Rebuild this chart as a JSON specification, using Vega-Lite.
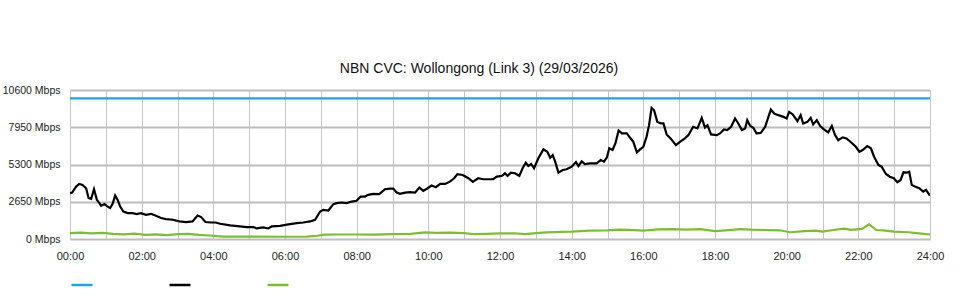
{
  "$schema": "https://vega.github.io/schema/vega-lite/v6.json",
  "autosize": {"type": "none"},
  "padding": {"left": 70, "top": 90, "right": 30, "bottom": 61},
  "width": 860,
  "height": 149,
  "background": "white",
  "title": {
    "text": "NBN CVC: Wollongong (Link 3) (29/03/2026)",
    "font": "Liberation Sans",
    "fontSize": 14,
    "fontWeight": "normal",
    "color": "#111",
    "anchor": "middle",
    "dx": -21,
    "offset": 9
  },
  "config": {
    "view": {"stroke": null},
    "axis": {
      "labelFont": "Liberation Sans",
      "labelColor": "#222",
      "domain": false,
      "ticks": false
    }
  },
  "data": {
    "values": [
      {"h": 0, "v": 10000, "s": "capacity"},
      {"h": 24, "v": 10000, "s": "capacity"},

      {"h": 0.00, "v": 3260, "s": "down"},
      {"h": 0.06, "v": 3300, "s": "down"},
      {"h": 0.17, "v": 3730, "s": "down"},
      {"h": 0.26, "v": 3920, "s": "down"},
      {"h": 0.35, "v": 3850, "s": "down"},
      {"h": 0.45, "v": 3610, "s": "down"},
      {"h": 0.52, "v": 2905, "s": "down"},
      {"h": 0.59, "v": 2855, "s": "down"},
      {"h": 0.67, "v": 3540, "s": "down"},
      {"h": 0.75, "v": 2785, "s": "down"},
      {"h": 0.82, "v": 2550, "s": "down"},
      {"h": 0.87, "v": 2360, "s": "down"},
      {"h": 0.96, "v": 2480, "s": "down"},
      {"h": 1.02, "v": 2360, "s": "down"},
      {"h": 1.12, "v": 2200, "s": "down"},
      {"h": 1.19, "v": 2500, "s": "down"},
      {"h": 1.26, "v": 3090, "s": "down"},
      {"h": 1.33, "v": 2785, "s": "down"},
      {"h": 1.40, "v": 2310, "s": "down"},
      {"h": 1.49, "v": 1955, "s": "down"},
      {"h": 1.61, "v": 1840, "s": "down"},
      {"h": 1.75, "v": 1840, "s": "down"},
      {"h": 1.86, "v": 1770, "s": "down"},
      {"h": 1.98, "v": 1840, "s": "down"},
      {"h": 2.12, "v": 1720, "s": "down"},
      {"h": 2.26, "v": 1790, "s": "down"},
      {"h": 2.40, "v": 1650, "s": "down"},
      {"h": 2.54, "v": 1490, "s": "down"},
      {"h": 2.68, "v": 1415, "s": "down"},
      {"h": 2.87, "v": 1370, "s": "down"},
      {"h": 3.05, "v": 1250, "s": "down"},
      {"h": 3.24, "v": 1205, "s": "down"},
      {"h": 3.42, "v": 1250, "s": "down"},
      {"h": 3.56, "v": 1670, "s": "down"},
      {"h": 3.66, "v": 1560, "s": "down"},
      {"h": 3.78, "v": 1205, "s": "down"},
      {"h": 3.93, "v": 1175, "s": "down"},
      {"h": 4.06, "v": 1175, "s": "down"},
      {"h": 4.19, "v": 1085, "s": "down"},
      {"h": 4.47, "v": 965, "s": "down"},
      {"h": 4.74, "v": 895, "s": "down"},
      {"h": 4.93, "v": 850, "s": "down"},
      {"h": 5.12, "v": 850, "s": "down"},
      {"h": 5.21, "v": 750, "s": "down"},
      {"h": 5.39, "v": 830, "s": "down"},
      {"h": 5.53, "v": 750, "s": "down"},
      {"h": 5.63, "v": 895, "s": "down"},
      {"h": 5.86, "v": 940, "s": "down"},
      {"h": 6.14, "v": 1060, "s": "down"},
      {"h": 6.33, "v": 1135, "s": "down"},
      {"h": 6.51, "v": 1175, "s": "down"},
      {"h": 6.70, "v": 1250, "s": "down"},
      {"h": 6.84, "v": 1370, "s": "down"},
      {"h": 6.98, "v": 1955, "s": "down"},
      {"h": 7.07, "v": 2075, "s": "down"},
      {"h": 7.21, "v": 2025, "s": "down"},
      {"h": 7.35, "v": 2480, "s": "down"},
      {"h": 7.44, "v": 2550, "s": "down"},
      {"h": 7.58, "v": 2595, "s": "down"},
      {"h": 7.72, "v": 2550, "s": "down"},
      {"h": 7.86, "v": 2665, "s": "down"},
      {"h": 8.00, "v": 2715, "s": "down"},
      {"h": 8.11, "v": 3020, "s": "down"},
      {"h": 8.23, "v": 3020, "s": "down"},
      {"h": 8.32, "v": 3140, "s": "down"},
      {"h": 8.46, "v": 3210, "s": "down"},
      {"h": 8.63, "v": 3190, "s": "down"},
      {"h": 8.79, "v": 3540, "s": "down"},
      {"h": 8.93, "v": 3585, "s": "down"},
      {"h": 9.02, "v": 3585, "s": "down"},
      {"h": 9.12, "v": 3300, "s": "down"},
      {"h": 9.21, "v": 3210, "s": "down"},
      {"h": 9.35, "v": 3300, "s": "down"},
      {"h": 9.49, "v": 3330, "s": "down"},
      {"h": 9.63, "v": 3300, "s": "down"},
      {"h": 9.75, "v": 3655, "s": "down"},
      {"h": 9.86, "v": 3420, "s": "down"},
      {"h": 9.98, "v": 3610, "s": "down"},
      {"h": 10.09, "v": 3800, "s": "down"},
      {"h": 10.21, "v": 3685, "s": "down"},
      {"h": 10.33, "v": 3920, "s": "down"},
      {"h": 10.47, "v": 3920, "s": "down"},
      {"h": 10.60, "v": 4080, "s": "down"},
      {"h": 10.72, "v": 4320, "s": "down"},
      {"h": 10.81, "v": 4605, "s": "down"},
      {"h": 10.96, "v": 4555, "s": "down"},
      {"h": 11.12, "v": 4320, "s": "down"},
      {"h": 11.24, "v": 4060, "s": "down"},
      {"h": 11.39, "v": 4320, "s": "down"},
      {"h": 11.53, "v": 4250, "s": "down"},
      {"h": 11.81, "v": 4250, "s": "down"},
      {"h": 11.91, "v": 4435, "s": "down"},
      {"h": 12.05, "v": 4485, "s": "down"},
      {"h": 12.14, "v": 4675, "s": "down"},
      {"h": 12.21, "v": 4485, "s": "down"},
      {"h": 12.30, "v": 4720, "s": "down"},
      {"h": 12.42, "v": 4675, "s": "down"},
      {"h": 12.54, "v": 4485, "s": "down"},
      {"h": 12.63, "v": 5030, "s": "down"},
      {"h": 12.72, "v": 5430, "s": "down"},
      {"h": 12.79, "v": 5195, "s": "down"},
      {"h": 12.87, "v": 5335, "s": "down"},
      {"h": 12.95, "v": 5030, "s": "down"},
      {"h": 13.07, "v": 5740, "s": "down"},
      {"h": 13.21, "v": 6375, "s": "down"},
      {"h": 13.32, "v": 6205, "s": "down"},
      {"h": 13.40, "v": 5780, "s": "down"},
      {"h": 13.47, "v": 5975, "s": "down"},
      {"h": 13.54, "v": 5500, "s": "down"},
      {"h": 13.63, "v": 4720, "s": "down"},
      {"h": 13.75, "v": 4910, "s": "down"},
      {"h": 13.86, "v": 4960, "s": "down"},
      {"h": 14.00, "v": 5145, "s": "down"},
      {"h": 14.12, "v": 5475, "s": "down"},
      {"h": 14.19, "v": 5195, "s": "down"},
      {"h": 14.28, "v": 5525, "s": "down"},
      {"h": 14.37, "v": 5335, "s": "down"},
      {"h": 14.51, "v": 5385, "s": "down"},
      {"h": 14.70, "v": 5385, "s": "down"},
      {"h": 14.81, "v": 5620, "s": "down"},
      {"h": 14.90, "v": 5500, "s": "down"},
      {"h": 14.98, "v": 5780, "s": "down"},
      {"h": 15.05, "v": 6450, "s": "down"},
      {"h": 15.14, "v": 6330, "s": "down"},
      {"h": 15.22, "v": 6800, "s": "down"},
      {"h": 15.31, "v": 7720, "s": "down"},
      {"h": 15.40, "v": 7510, "s": "down"},
      {"h": 15.54, "v": 7510, "s": "down"},
      {"h": 15.63, "v": 7200, "s": "down"},
      {"h": 15.72, "v": 6915, "s": "down"},
      {"h": 15.82, "v": 6165, "s": "down"},
      {"h": 15.91, "v": 6375, "s": "down"},
      {"h": 16.00, "v": 6560, "s": "down"},
      {"h": 16.09, "v": 7270, "s": "down"},
      {"h": 16.16, "v": 8100, "s": "down"},
      {"h": 16.23, "v": 9325, "s": "down"},
      {"h": 16.30, "v": 9160, "s": "down"},
      {"h": 16.39, "v": 8330, "s": "down"},
      {"h": 16.49, "v": 8220, "s": "down"},
      {"h": 16.56, "v": 8220, "s": "down"},
      {"h": 16.65, "v": 7440, "s": "down"},
      {"h": 16.76, "v": 7155, "s": "down"},
      {"h": 16.91, "v": 6680, "s": "down"},
      {"h": 17.02, "v": 6915, "s": "down"},
      {"h": 17.16, "v": 7155, "s": "down"},
      {"h": 17.26, "v": 7390, "s": "down"},
      {"h": 17.39, "v": 7980, "s": "down"},
      {"h": 17.51, "v": 7865, "s": "down"},
      {"h": 17.63, "v": 8615, "s": "down"},
      {"h": 17.72, "v": 7935, "s": "down"},
      {"h": 17.79, "v": 8100, "s": "down"},
      {"h": 17.89, "v": 7440, "s": "down"},
      {"h": 18.05, "v": 7390, "s": "down"},
      {"h": 18.14, "v": 7510, "s": "down"},
      {"h": 18.25, "v": 7795, "s": "down"},
      {"h": 18.34, "v": 7745, "s": "down"},
      {"h": 18.45, "v": 7980, "s": "down"},
      {"h": 18.56, "v": 8575, "s": "down"},
      {"h": 18.65, "v": 8220, "s": "down"},
      {"h": 18.75, "v": 7745, "s": "down"},
      {"h": 18.84, "v": 7865, "s": "down"},
      {"h": 18.90, "v": 8455, "s": "down"},
      {"h": 18.98, "v": 8050, "s": "down"},
      {"h": 19.07, "v": 7910, "s": "down"},
      {"h": 19.16, "v": 7510, "s": "down"},
      {"h": 19.28, "v": 7555, "s": "down"},
      {"h": 19.40, "v": 7980, "s": "down"},
      {"h": 19.49, "v": 8690, "s": "down"},
      {"h": 19.56, "v": 9210, "s": "down"},
      {"h": 19.65, "v": 8930, "s": "down"},
      {"h": 19.77, "v": 8810, "s": "down"},
      {"h": 19.91, "v": 8690, "s": "down"},
      {"h": 20.00, "v": 8575, "s": "down"},
      {"h": 20.07, "v": 9040, "s": "down"},
      {"h": 20.17, "v": 8860, "s": "down"},
      {"h": 20.30, "v": 8380, "s": "down"},
      {"h": 20.39, "v": 8810, "s": "down"},
      {"h": 20.46, "v": 8220, "s": "down"},
      {"h": 20.58, "v": 8330, "s": "down"},
      {"h": 20.67, "v": 8615, "s": "down"},
      {"h": 20.74, "v": 8150, "s": "down"},
      {"h": 20.84, "v": 8455, "s": "down"},
      {"h": 20.93, "v": 8050, "s": "down"},
      {"h": 21.04, "v": 7795, "s": "down"},
      {"h": 21.16, "v": 7580, "s": "down"},
      {"h": 21.26, "v": 8050, "s": "down"},
      {"h": 21.35, "v": 7390, "s": "down"},
      {"h": 21.44, "v": 7035, "s": "down"},
      {"h": 21.56, "v": 7230, "s": "down"},
      {"h": 21.67, "v": 7155, "s": "down"},
      {"h": 21.81, "v": 6845, "s": "down"},
      {"h": 21.93, "v": 6560, "s": "down"},
      {"h": 22.03, "v": 6205, "s": "down"},
      {"h": 22.12, "v": 6330, "s": "down"},
      {"h": 22.25, "v": 6610, "s": "down"},
      {"h": 22.35, "v": 6450, "s": "down"},
      {"h": 22.44, "v": 5855, "s": "down"},
      {"h": 22.56, "v": 5265, "s": "down"},
      {"h": 22.65, "v": 5145, "s": "down"},
      {"h": 22.77, "v": 4625, "s": "down"},
      {"h": 22.88, "v": 4435, "s": "down"},
      {"h": 22.99, "v": 4320, "s": "down"},
      {"h": 23.09, "v": 4040, "s": "down"},
      {"h": 23.18, "v": 4200, "s": "down"},
      {"h": 23.26, "v": 4745, "s": "down"},
      {"h": 23.35, "v": 4720, "s": "down"},
      {"h": 23.42, "v": 4790, "s": "down"},
      {"h": 23.49, "v": 3850, "s": "down"},
      {"h": 23.58, "v": 3730, "s": "down"},
      {"h": 23.70, "v": 3610, "s": "down"},
      {"h": 23.81, "v": 3375, "s": "down"},
      {"h": 23.89, "v": 3495, "s": "down"},
      {"h": 23.95, "v": 3260, "s": "down"},
      {"h": 24.00, "v": 3090, "s": "down"},

      {"h": 0.0, "v": 425, "s": "up"},
      {"h": 0.3, "v": 450, "s": "up"},
      {"h": 0.6, "v": 400, "s": "up"},
      {"h": 0.9, "v": 430, "s": "up"},
      {"h": 1.2, "v": 360, "s": "up"},
      {"h": 1.5, "v": 330, "s": "up"},
      {"h": 1.8, "v": 380, "s": "up"},
      {"h": 2.1, "v": 300, "s": "up"},
      {"h": 2.4, "v": 330, "s": "up"},
      {"h": 2.7, "v": 270, "s": "up"},
      {"h": 3.0, "v": 340, "s": "up"},
      {"h": 3.3, "v": 360, "s": "up"},
      {"h": 3.6, "v": 290, "s": "up"},
      {"h": 3.9, "v": 250, "s": "up"},
      {"h": 4.1, "v": 200, "s": "up"},
      {"h": 4.3, "v": 170, "s": "up"},
      {"h": 5.0, "v": 165, "s": "up"},
      {"h": 6.0, "v": 160, "s": "up"},
      {"h": 6.6, "v": 165, "s": "up"},
      {"h": 6.9, "v": 230, "s": "up"},
      {"h": 7.1, "v": 310, "s": "up"},
      {"h": 7.5, "v": 320, "s": "up"},
      {"h": 8.0, "v": 320, "s": "up"},
      {"h": 8.5, "v": 310, "s": "up"},
      {"h": 9.0, "v": 340, "s": "up"},
      {"h": 9.5, "v": 360, "s": "up"},
      {"h": 9.9, "v": 470, "s": "up"},
      {"h": 10.2, "v": 430, "s": "up"},
      {"h": 10.6, "v": 450, "s": "up"},
      {"h": 11.0, "v": 420, "s": "up"},
      {"h": 11.3, "v": 340, "s": "up"},
      {"h": 11.6, "v": 370, "s": "up"},
      {"h": 12.0, "v": 400, "s": "up"},
      {"h": 12.4, "v": 410, "s": "up"},
      {"h": 12.7, "v": 350, "s": "up"},
      {"h": 13.0, "v": 420, "s": "up"},
      {"h": 13.3, "v": 470, "s": "up"},
      {"h": 13.7, "v": 500, "s": "up"},
      {"h": 14.0, "v": 520, "s": "up"},
      {"h": 14.5, "v": 590, "s": "up"},
      {"h": 15.0, "v": 620, "s": "up"},
      {"h": 15.3, "v": 660, "s": "up"},
      {"h": 15.6, "v": 650, "s": "up"},
      {"h": 16.0, "v": 600, "s": "up"},
      {"h": 16.4, "v": 680, "s": "up"},
      {"h": 16.8, "v": 700, "s": "up"},
      {"h": 17.2, "v": 660, "s": "up"},
      {"h": 17.6, "v": 700, "s": "up"},
      {"h": 18.0, "v": 560, "s": "up"},
      {"h": 18.3, "v": 620, "s": "up"},
      {"h": 18.7, "v": 700, "s": "up"},
      {"h": 19.0, "v": 660, "s": "up"},
      {"h": 19.4, "v": 640, "s": "up"},
      {"h": 19.8, "v": 620, "s": "up"},
      {"h": 20.1, "v": 480, "s": "up"},
      {"h": 20.5, "v": 560, "s": "up"},
      {"h": 20.8, "v": 600, "s": "up"},
      {"h": 21.0, "v": 520, "s": "up"},
      {"h": 21.3, "v": 640, "s": "up"},
      {"h": 21.6, "v": 740, "s": "up"},
      {"h": 21.8, "v": 650, "s": "up"},
      {"h": 22.1, "v": 720, "s": "up"},
      {"h": 22.3, "v": 1050, "s": "up"},
      {"h": 22.5, "v": 640, "s": "up"},
      {"h": 22.7, "v": 620, "s": "up"},
      {"h": 23.0, "v": 520, "s": "up"},
      {"h": 23.4, "v": 480, "s": "up"},
      {"h": 23.7, "v": 400, "s": "up"},
      {"h": 24.0, "v": 320, "s": "up"}
    ]
  },
  "mark": {"type": "line", "strokeWidth": 2.2, "clip": true},
  "encoding": {
    "x": {
      "field": "h",
      "type": "quantitative",
      "scale": {"domain": [0, 24], "nice": false, "zero": false},
      "axis": {
        "title": null,
        "values": [0,1,2,3,4,5,6,7,8,9,10,11,12,13,14,15,16,17,18,19,20,21,22,23,24],
        "labelExpr": "datum.value % 2 == 0 ? (datum.value < 10 ? '0' : '') + datum.value + ':00' : ''",
        "labelFontSize": 11,
        "labelPadding": 11,
        "labelFlush": false,
        "labelOverlap": false,
        "grid": true,
        "gridColor": "#c8c8c8",
        "gridWidth": 1
      }
    },
    "y": {
      "field": "v",
      "type": "quantitative",
      "scale": {"domain": [0, 10600], "nice": false},
      "axis": {
        "title": null,
        "values": [0, 2650, 5300, 7950, 10600],
        "labelExpr": "datum.value + ' Mbps'",
        "labelFontSize": 10.5,
        "labelPadding": 10,
        "labelFlush": false,
        "labelOverlap": false,
        "grid": true,
        "gridColor": "#bdbdbd",
        "gridWidth": 2
      }
    },
    "color": {
      "field": "s",
      "type": "nominal",
      "scale": {"domain": ["capacity", "down", "up"], "range": ["#1ea5e0", "#000000", "#7cbf2c"]},
      "legend": {
        "title": null,
        "orient": "none",
        "legendX": 0,
        "legendY": 183,
        "direction": "horizontal",
        "symbolType": "stroke",
        "symbolSize": 441,
        "symbolStrokeWidth": 2.5,
        "labelExpr": "''",
        "labelOffset": 0,
        "columnPadding": 66,
        "padding": 0
      }
    }
  }
}
